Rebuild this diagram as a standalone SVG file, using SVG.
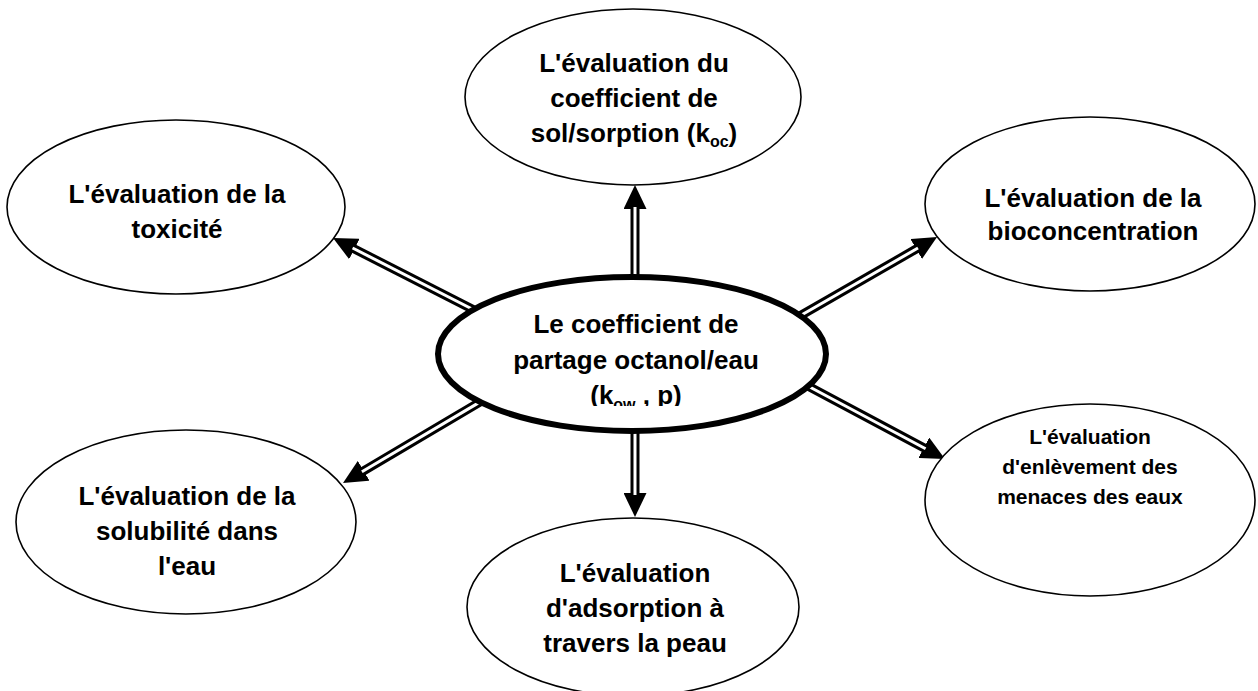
<svg xmlns="http://www.w3.org/2000/svg" width="1258" height="691" viewBox="0 0 1258 691">
  <style>
    .node { fill: #ffffff; stroke: #000000; stroke-width: 1.6; }
    .hub { fill: #ffffff; stroke: #000000; stroke-width: 6; }
    .label { font-family: "Liberation Sans", Arial, sans-serif; font-weight: bold; font-size: 26px; fill: #000000; text-anchor: middle; }
    .small { font-size: 21px; }
    .sub { font-size: 16px; }
    .shaft-out { stroke: #000000; stroke-width: 9; fill: none; }
    .shaft-in { stroke: #ffffff; stroke-width: 3; fill: none; }
  </style>
  <defs>
    <marker id="head" markerUnits="userSpaceOnUse" markerWidth="24" markerHeight="23" refX="1" refY="11.5" orient="auto">
      <path d="M0,0 L24,11.5 L0,23 z" fill="#000000"/>
    </marker>
    <clipPath id="hubText">
      <rect x="430" y="290" width="400" height="116"/>
    </clipPath>
  </defs>

  <rect x="0" y="0" width="1258" height="691" fill="#ffffff"/>

  <!-- connectors: double-line shafts with solid heads -->
  <g id="connectors">
    <!-- to top node -->
    <line class="shaft-out" x1="635" y1="290" x2="635" y2="208" marker-end="url(#head)"/>
    <line class="shaft-in" x1="635" y1="290" x2="635" y2="207"/>
    <!-- to bottom node -->
    <line class="shaft-out" x1="635" y1="420" x2="635" y2="494" marker-end="url(#head)"/>
    <line class="shaft-in" x1="635" y1="420" x2="635" y2="495"/>
    <!-- to upper-left node -->
    <line class="shaft-out" x1="477" y1="311.5" x2="353.5" y2="248.5" marker-end="url(#head)"/>
    <line class="shaft-in" x1="477" y1="311.5" x2="352.6" y2="248"/>
    <!-- to upper-right node -->
    <line class="shaft-out" x1="798" y1="317" x2="917.1" y2="248.5" marker-end="url(#head)"/>
    <line class="shaft-in" x1="798" y1="317" x2="918" y2="248"/>
    <!-- to lower-left node -->
    <line class="shaft-out" x1="483.6" y1="399.9" x2="362.8" y2="471.3" marker-end="url(#head)"/>
    <line class="shaft-in" x1="483.6" y1="399.9" x2="361.9" y2="471.8"/>
    <!-- to lower-right node -->
    <line class="shaft-out" x1="806" y1="385" x2="924.7" y2="448.2" marker-end="url(#head)"/>
    <line class="shaft-in" x1="806" y1="385" x2="925.6" y2="448.7"/>
  </g>

  <g id="node-kow">
    <ellipse class="hub" cx="632" cy="354" rx="194" ry="77"/>
    <g clip-path="url(#hubText)">
      <text class="label" x="636" y="333">Le coefficient de</text>
      <text class="label" x="636" y="369">partage octanol/eau</text>
      <text class="label" x="636" y="404">(k<tspan class="sub" dy="6">ow</tspan><tspan dy="-6"> , p)</tspan></text>
    </g>
  </g>

  <g id="node-koc">
    <ellipse class="node" cx="633" cy="97" rx="168" ry="88"/>
    <text class="label" x="634" y="72">L'évaluation du</text>
    <text class="label" x="634" y="107">coefficient de</text>
    <text class="label" x="634" y="142">sol/sorption (k<tspan class="sub" dy="5">oc</tspan><tspan dy="-5">)</tspan></text>
  </g>

  <g id="node-toxicite">
    <ellipse class="node" cx="176" cy="207" rx="169" ry="87"/>
    <text class="label" x="177" y="203">L'évaluation de la</text>
    <text class="label" x="177" y="238">toxicité</text>
  </g>

  <g id="node-bioconcentration">
    <ellipse class="node" cx="1090" cy="204" rx="165" ry="87"/>
    <text class="label" x="1093" y="207">L'évaluation de la</text>
    <text class="label" x="1093" y="240">bioconcentration</text>
  </g>

  <g id="node-solubilite">
    <ellipse class="node" cx="186" cy="522" rx="170" ry="92"/>
    <text class="label" x="187" y="505">L'évaluation de la</text>
    <text class="label" x="187" y="540">solubilité dans</text>
    <text class="label" x="187" y="575">l'eau</text>
  </g>

  <g id="node-peau">
    <ellipse class="node" cx="633" cy="607" rx="166" ry="89"/>
    <text class="label" x="635" y="582">L'évaluation</text>
    <text class="label" x="635" y="617">d'adsorption à</text>
    <text class="label" x="635" y="652">travers la peau</text>
  </g>

  <g id="node-eaux">
    <ellipse class="node" cx="1090" cy="500" rx="165" ry="96"/>
    <text class="label small" x="1090" y="444">L'évaluation</text>
    <text class="label small" x="1090" y="474">d'enlèvement des</text>
    <text class="label small" x="1090" y="504">menaces des eaux</text>
  </g>
</svg>
